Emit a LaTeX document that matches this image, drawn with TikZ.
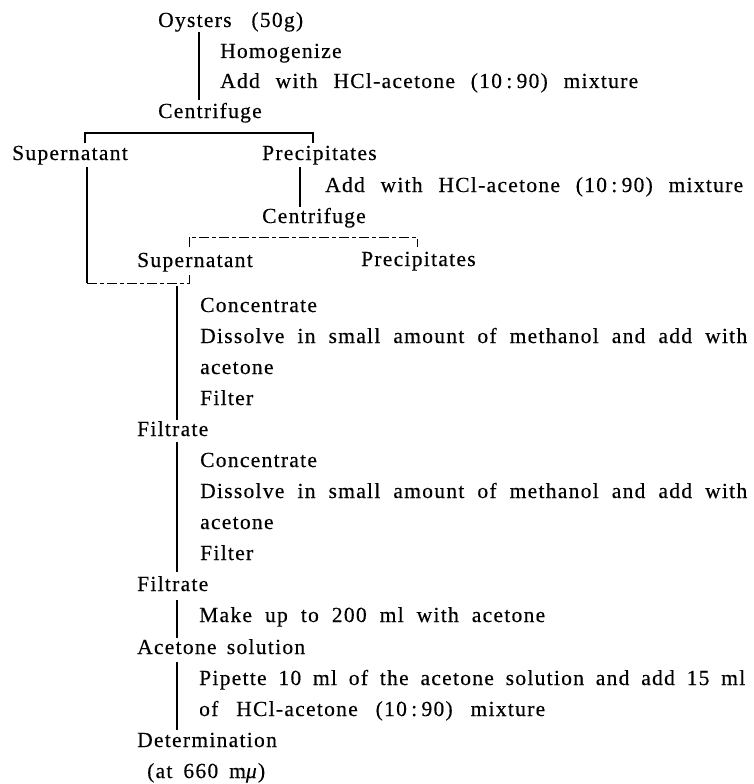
\documentclass[tikz,border=0pt]{standalone}
\usepackage{fontspec}
\setmainfont{Liberation Serif}[LetterSpace=6,FakeBold=0.4]
\newcommand\wbox[2]{\hbox to #1pt{\spaceskip=0.25em plus 1fil\relax #2}}
\newcommand\ratio{10\hspace{0.2em}:\hspace{0.2em}90}
\tikzset{
  lbl/.style={anchor=base west, inner sep=0pt, font=\fontsize{21.5}{21.5}\selectfont},
  ln/.style={line width=1.1pt, black},
  dln/.style={line width=1pt, black, dash pattern=on 10pt off 3pt on 4pt off 3pt}
}
\begin{document}
\begin{tikzpicture}[x=1pt,y=-1pt]
\useasboundingbox (0,0) rectangle (754,784);
% texts
\node[lbl] (oys)  at (158,27)  {\wbox{145}{Oysters (50g)}};
\node[lbl] (hom)  at (220,58)  {Homogenize};
\node[lbl] (add1) at (220,88)  {\wbox{418}{Add with HCl-acetone (\ratio) mixture}};
\node[lbl] (cen1) at (158,118) {Centrifuge};
\node[lbl] (sup1) at (12,160)  {Supernatant};
\node[lbl] (pre1) at (262,160) {Precipitates};
\node[lbl] (add2) at (325,192) {\wbox{418}{Add with HCl-acetone (\ratio) mixture}};
\node[lbl] (cen2) at (262,223) {Centrifuge};
\node[lbl] (sup2) at (137,267) {Supernatant};
\node[lbl] (pre2) at (361,266) {Precipitates};
\node[lbl] (con1) at (200,312) {Concentrate};
\node[lbl] (dis1) at (200,343) {\wbox{547}{Dissolve in small amount of methanol and add with}};
\node[lbl] (ace1) at (200,374) {acetone};
\node[lbl] (fil1) at (200,405) {Filter};
\node[lbl] (ftr1) at (137,436) {Filtrate};
\node[lbl] (con2) at (200,467) {Concentrate};
\node[lbl] (dis2) at (200,498) {\wbox{547}{Dissolve in small amount of methanol and add with}};
\node[lbl] (ace2) at (200,529) {acetone};
\node[lbl] (fil2) at (200,560) {Filter};
\node[lbl] (ftr2) at (137,591) {Filtrate};
\node[lbl] (mak)  at (199,622) {\wbox{346}{Make up to 200 ml with acetone}};
\node[lbl] (aso)  at (137,654) {\wbox{168}{Acetone solution}};
\node[lbl] (pip)  at (199,685) {\wbox{546}{Pipette 10 ml of the acetone solution and add 15 ml}};
\node[lbl] (ofh)  at (199,716) {\wbox{346}{of HCl-acetone (\ratio) mixture}};
\node[lbl] (det)  at (137,747) {Determination};
\node[lbl] (at)   at (147,778) {\wbox{118}{(at 660 m\textit{μ})}};
% connector points
\coordinate (a1) at (199,32);  \coordinate (a2) at (199,100);
\coordinate (b1) at (85,143);  \coordinate (b2) at (85,133);
\coordinate (b3) at (313,133); \coordinate (b4) at (313,143);
\coordinate (c1) at (87,167);  \coordinate (c2) at (87,283);
\coordinate (c3) at (189,283); \coordinate (c4) at (189,272);
\coordinate (d1) at (300,167); \coordinate (d2) at (300,207);
\coordinate (e1) at (189,247); \coordinate (e2) at (189,237);
\coordinate (e3) at (417,237); \coordinate (e4) at (417,247);
\coordinate (m1) at (177,286); \coordinate (m2) at (177,420);
\coordinate (m3) at (177,442); \coordinate (m4) at (177,572);
\coordinate (m5) at (177,600); \coordinate (m6) at (177,638);
\coordinate (m7) at (177,662); \coordinate (m8) at (177,730);
% connectors
\draw[ln] (a1) -- (a2);
\draw[ln] (b1) -- (b2) -- (b3) -- (b4);
\draw[ln] (c1) -- (c2);
\draw[dln] (c2) -- (c3) -- (c4);
\draw[ln] (d1) -- (d2);
\draw[dln] (e1) -- (e2) -- (e3) -- (e4);
\draw[ln] (m1) -- (m2);
\draw[ln] (m3) -- (m4);
\draw[ln] (m5) -- (m6);
\draw[ln] (m7) -- (m8);
\end{tikzpicture}
\end{document}
